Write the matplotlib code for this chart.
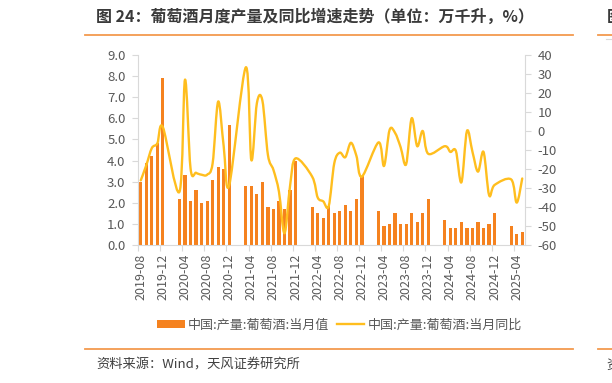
import numpy as np
import matplotlib
matplotlib.use("Agg")
import matplotlib.pyplot as plt
from matplotlib.path import Path
from matplotlib.patches import PathPatch, Patch
from matplotlib.lines import Line2D

plt.rcParams['font.family'] = ['Noto Sans CJK SC', 'DejaVu Sans']
plt.rcParams['axes.unicode_minus'] = False

# ---------------- data ----------------
months = [
    "2019-08", "2019-09", "2019-10", "2019-11", "2019-12",
    "2020-01", "2020-02", "2020-03", "2020-04", "2020-05", "2020-06", "2020-07", "2020-08",
    "2020-09", "2020-10", "2020-11", "2020-12",
    "2021-01", "2021-02", "2021-03", "2021-04", "2021-05", "2021-06", "2021-07", "2021-08",
    "2021-09", "2021-10", "2021-11", "2021-12",
    "2022-01", "2022-02", "2022-03", "2022-04", "2022-05", "2022-06", "2022-07", "2022-08",
    "2022-09", "2022-10", "2022-11", "2022-12",
    "2023-01", "2023-02", "2023-03", "2023-04", "2023-05", "2023-06", "2023-07", "2023-08",
    "2023-09", "2023-10", "2023-11", "2023-12",
    "2024-01", "2024-02", "2024-03", "2024-04", "2024-05", "2024-06", "2024-07", "2024-08",
    "2024-09", "2024-10", "2024-11", "2024-12",
    "2025-01", "2025-02", "2025-03", "2025-04", "2025-05",
]

production = [
    3.0, 3.9, 4.2, 4.85, 7.9,
    None, None, 2.2, 3.3, 2.1, 2.6, 2.0, 2.1, 3.1, 3.7, 3.6, 5.7,
    None, None, 2.8, 2.8, 2.4, 3.0, 1.8, 1.7, 2.1, 1.7, 2.6, 4.0,
    None, None, 1.8, 1.5, 1.3, 1.85, 1.5, 1.6, 1.9, 1.6, 2.2, 3.25,
    None, None, 1.6, 0.9, 1.0, 1.5, 1.0, 1.0, 1.5, 1.1, 1.5, 2.2,
    None, None, 1.2, 0.8, 0.8, 1.1, 0.8, 0.8, 1.1, 0.8, 1.0, 1.5,
    None, None, 0.9, 0.5, 0.6,
]

yoy = [
    -26.0, -18.0, -9.0, -6.5, 2.0,
    None, None, -32.0, 27.0, -19.6, -22.0, -23.0, -23.0, -17.0, 15.5, -8.0, -28.5,
    None, None, 33.5, -15.3, 14.6, 16.0, -12.6, -20.5, -32.0, -53.8, -29.0, -14.4,
    None, None, -24.0, -35.0, -37.0, -39.5, -17.0, -11.4, -13.8, -6.2, -13.0, -24.0,
    None, None, -6.0, -18.4, 0.5, -1.0, -8.5, -17.5, 6.7, -8.0, 0.0, -12.0,
    None, None, -8.0, -11.0, -10.5, -27.0, 0.0, -11.0, -21.4, -11.0, -33.7, -28.4,
    None, None, -25.5, -37.7, -25.0,
]

bar_label = "中国:产量:葡萄酒:当月值"
line_label = "中国:产量:葡萄酒:当月同比"
title = "图 24：葡萄酒月度产量及同比增速走势（单位：万千升，%）"
source = "资料来源：Wind，天风证券研究所"

# ---------------- styles ----------------
BAR_C = "#F5821F"
LINE_C = "#FFBE1E"
AX_C = "#D9D9D9"
TXT_C = "#595959"
DECO_C = "#F39A4E"

W, H = 612, 383
fig = plt.figure(figsize=(W / 100, H / 100), dpi=100)
ax = fig.add_axes([138 / W, 1 - 245 / H, (525 - 138) / W, 190 / H])
ax2 = ax.twinx()

x = np.arange(len(months))
prod = np.array([np.nan if v is None else v for v in production], dtype=float)
yy = np.array([np.nan if v is None else v for v in yoy], dtype=float)

ax.bar(x, prod, width=0.58, color=BAR_C, linewidth=0, zorder=2)


def smooth_path(xs, ys):
    pts = list(zip(xs, ys))
    n = len(pts)
    verts = [pts[0]]
    codes = [Path.MOVETO]
    for i in range(n - 1):
        p0 = pts[i - 1] if i > 0 else pts[i]
        p1 = pts[i]
        p2 = pts[i + 1]
        p3 = pts[i + 2] if i + 2 < n else pts[i + 1]
        c1 = (p1[0] + (p2[0] - p0[0]) / 6, p1[1] + (p2[1] - p0[1]) / 6)
        c2 = (p2[0] - (p3[0] - p1[0]) / 6, p2[1] - (p3[1] - p1[1]) / 6)
        verts += [c1, c2, p2]
        codes += [Path.CURVE4] * 3
    return Path(verts, codes)


valid = ~np.isnan(yy)
path = smooth_path(x[valid], yy[valid])
ax2.add_patch(PathPatch(path, facecolor="none", edgecolor=LINE_C, lw=1.7,
                        capstyle="round", joinstyle="round", zorder=3))

# ---------------- axes ----------------
ax.set_xlim(-0.5, len(months) - 0.5)
ax.set_ylim(0, 9)
ax2.set_ylim(-60, 40)

ax.set_yticks(np.arange(0, 9.01, 1.0))
ax.set_yticklabels([f"{v:.1f}" for v in np.arange(0, 9.01, 1.0)])
ax2.set_yticks(np.arange(-60, 41, 10))
ax2.set_yticklabels([str(v) for v in range(-60, 41, 10)])

label_idx = list(range(0, len(months), 4))
ax.set_xticks([i - 0.5 for i in label_idx])
ax.set_xticklabels([])
ax.set_xticks(label_idx, minor=True)
ax.set_xticklabels([months[i] for i in label_idx], minor=True, rotation=90)

ax.tick_params(axis="x", which="major", length=4, width=0.8, color=AX_C)
ax.tick_params(axis="x", which="minor", length=0, pad=6, labelsize=9, labelcolor=TXT_C)
ax.tick_params(axis="y", length=4, width=0.8, color=AX_C, pad=5, labelsize=9.5, labelcolor=TXT_C)
ax2.tick_params(axis="y", length=4, width=0.8, color=AX_C, pad=5, labelsize=9.5, labelcolor=TXT_C)

for a in (ax, ax2):
    a.spines["top"].set_visible(False)
    for s in ("left", "right", "bottom"):
        a.spines[s].set_color(AX_C)
        a.spines[s].set_linewidth(0.8)
ax.spines["right"].set_visible(False)
ax2.spines["left"].set_visible(False)
ax2.spines["bottom"].set_visible(False)

# ---------------- legend ----------------
handles = [Patch(facecolor=BAR_C, edgecolor="none"),
           Line2D([0], [0], color=LINE_C, lw=1.7)]
fig.legend(handles, [bar_label, line_label], loc="center",
           bbox_to_anchor=(339.5 / W, 1 - 325 / H), ncol=2, frameon=False,
           fontsize=9.4, labelcolor=TXT_C, handlelength=2.1, handleheight=0.55,
           handletextpad=0.25, columnspacing=0.6)

# ---------------- title / source decorations ----------------
fig.text(96 / W, 1 - 17 / H, title, fontsize=11.5, fontweight="bold",
         color="#3A3A3A", ha="left", va="center")
fig.text(607 / W, 1 - 17 / H, "图", fontsize=11.5, fontweight="bold",
         color="#3A3A3A", ha="left", va="center")
fig.text(96 / W, 1 - 365 / H, source, fontsize=9.5, color="#404040",
         ha="left", va="center")
fig.text(606 / W, 1 - 365 / H, "资", fontsize=9.5, color="#404040",
         ha="left", va="center")

for yv in (34.5, 349):
    fig.add_artist(Line2D([85 / W, 573 / W], [1 - yv / H] * 2,
                          transform=fig.transFigure, color=DECO_C, lw=1.3))
    fig.add_artist(Line2D([598 / W, 1.0], [1 - yv / H] * 2,
                          transform=fig.transFigure, color=DECO_C, lw=1.3))
fig.add_artist(Line2D([606 / W, 1.0], [1 - 39 / H] * 2,
                      transform=fig.transFigure, color=AX_C, lw=0.8))

fig.savefig("out.png", dpi=100)
